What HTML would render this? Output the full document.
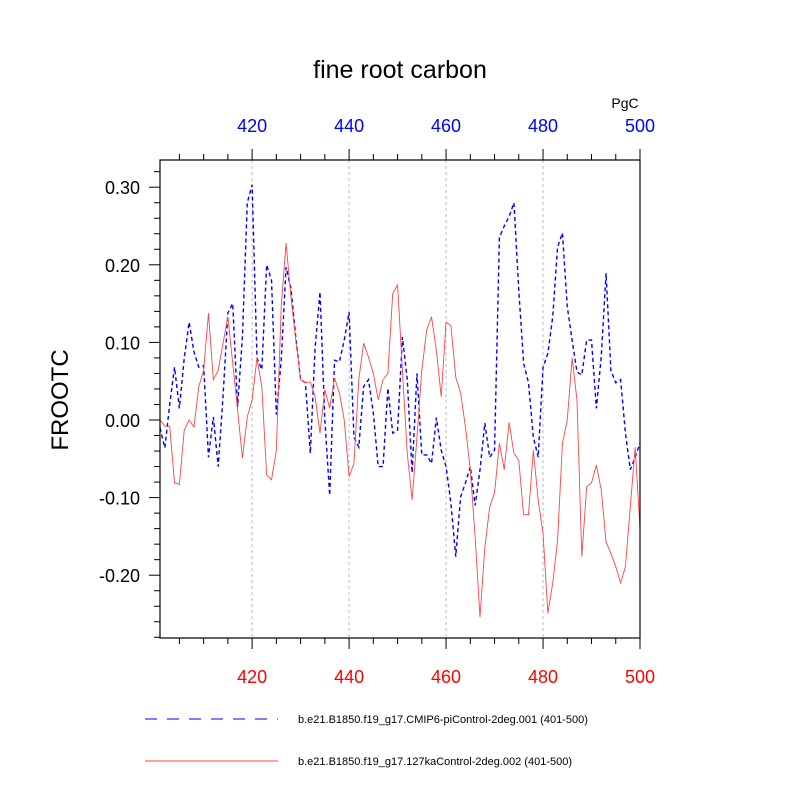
<!DOCTYPE html>
<html><head><meta charset="utf-8"><style>
body{margin:0;background:#fff}
svg text{font-family:"Liberation Sans",sans-serif}
</style></head><body>
<svg id="chart" width="800" height="800" xmlns="http://www.w3.org/2000/svg">
<text x="400" y="78" font-size="25" text-anchor="middle">fine root carbon</text>
<text x="625" y="108" font-size="14" text-anchor="middle">PgC</text>
<text x="0" y="0" font-size="24" text-anchor="middle" transform="translate(68,400) rotate(-90)">FROOTC</text>
<g id="axes"></g>
<g id="series"></g>
<rect x="160" y="160" width="480" height="478" fill="none" stroke="#000" stroke-width="1.2"/>
<g>
<line x1="145" y1="719" x2="278" y2="719" stroke="#0000ff" stroke-width="1" stroke-dasharray="12,10"/>
<text x="298" y="723" font-size="11">b.e21.B1850.f19_g17.CMIP6-piControl-2deg.001 (401-500)</text>
<line x1="145" y1="761" x2="278" y2="761" stroke="#ff0000" stroke-width="0.8"/>
<text x="298" y="765" font-size="11">b.e21.B1850.f19_g17.127kaControl-2deg.002 (401-500)</text>
</g>
</svg>
<script>
const years=[];for(let y=401;y<=500;y++)years.push(y);
const blueValues=[-0.01,-0.036,0.02,0.068,0.015,0.08,0.126,0.088,0.068,0.07,
-0.048,0.004,-0.06,0.03,0.138,0.15,0.017,0.107,0.28,0.303,
0.08,0.065,0.2,0.18,0.007,0.077,0.197,0.17,0.107,0.052,
0.048,-0.043,0.094,0.165,0,-0.097,0.077,0.075,0.103,0.139,
-0.022,-0.035,0.043,0.052,0.009,-0.06,-0.06,0.041,-0.017,-0.013,
0.107,0.052,-0.068,0.06,-0.045,-0.045,-0.056,0.003,-0.039,-0.06,
-0.107,-0.176,-0.099,-0.081,-0.06,-0.11,-0.064,-0.004,-0.048,-0.039,
0.235,0.25,0.262,0.28,0.167,0.073,0.048,-0.022,-0.048,0.068,
0.086,0.133,0.223,0.241,0.146,0.103,0.062,0.058,0.103,0.103,
0.015,0.081,0.189,0.064,0.048,0.052,-0.017,-0.064,-0.048,-0.03];
const redValues=[0,-0.008,-0.008,-0.081,-0.083,-0.013,0,-0.009,0.043,0.064,
0.138,0.052,0.064,0.099,0.133,0.073,0.013,-0.049,0.004,0.026,
0.08,0.043,-0.071,-0.077,-0.039,0.146,0.228,0.159,0.103,0.052,
0.048,0.049,0.03,-0.017,0.039,0.015,0.054,0.035,0,-0.073,
-0.056,0.052,0.099,0.081,0.06,0.026,0.052,0.06,0.163,0.174,
0.064,-0.043,-0.103,-0.022,0.064,0.116,0.133,0.09,0.03,0.126,
0.122,0.055,0.035,-0.009,-0.064,-0.151,-0.254,-0.164,-0.112,-0.094,
-0.03,-0.064,-0.003,-0.043,-0.052,-0.122,-0.122,-0.039,-0.103,-0.146,
-0.249,-0.21,-0.155,-0.03,0,0.08,0.026,-0.176,-0.086,-0.081,
-0.058,-0.09,-0.157,-0.172,-0.189,-0.21,-0.189,-0.112,-0.035,-0.14];
const xTicks=[420,440,460,480,500];
const yTicks=[0.3,0.2,0.1,0,-0.1,-0.2];
const yTickLabels=["0.30","0.20","0.10","0.00","-0.10","-0.20"];
const NS="http://www.w3.org/2000/svg";
const X=v=>160+(v-401)*(480/99);
const Y=v=>420-v*776;
const axes=document.getElementById('axes'),series=document.getElementById('series');
function mk(tag,attrs,parent){const e=document.createElementNS(NS,tag);for(const k in attrs)e.setAttribute(k,attrs[k]);parent.appendChild(e);return e;}
for(let yr=405;yr<=500;yr+=5){
 const major=xTicks.includes(yr);
 const t1=mk('line',{x1:X(yr),x2:X(yr),y1:160,y2:160-(major?11:6),stroke:'#000'},axes);
 
 
 const t2=mk('line',{x1:X(yr),x2:X(yr),y1:638,y2:638+(major?11:6),stroke:'#000'},axes);
 
 
}
xTicks.forEach(v=>{
 if(v<500){const g=mk('line',{x1:X(v),x2:X(v),y1:160,y2:638,stroke:'#bbb','stroke-dasharray':'3,3'},axes);
 
 }
 const a=mk('text',{x:X(v),y:132,'font-size':18,'text-anchor':'middle',fill:'#0000ff'},axes);a.textContent=v;
 
 
 const b=mk('text',{x:X(v),y:683,'font-size':18,'text-anchor':'middle',fill:'#ff0000'},axes);b.textContent=v;
 
 
});
for(let i=-14;i<=16;i++){
 const v=i*0.02;const yy=Y(v);if(yy<160||yy>638)continue;
 const major=i%5===0;
 const t=mk('line',{x1:160,x2:160-(major?11:6),y1:yy,y2:yy,stroke:'#000'},axes);
 
 
}
yTicks.forEach((v,i)=>{
 const t=mk('text',{x:140,y:Y(v)+7,'font-size':18,'text-anchor':'end'},axes);t.textContent=yTickLabels[i];
 
 
});
const pb=mk('polyline',{points:blueValues.map((v,i)=>X(years[i])+','+Y(v)).join(' '),fill:'none',stroke:'#0000ff','stroke-width':1.4,'stroke-dasharray':'4,3'},series);


const pr=mk('polyline',{points:redValues.map((v,i)=>X(years[i])+','+Y(v)).join(' '),fill:'none',stroke:'#ff4444','stroke-width':0.9},series);


</script>
</body></html>
